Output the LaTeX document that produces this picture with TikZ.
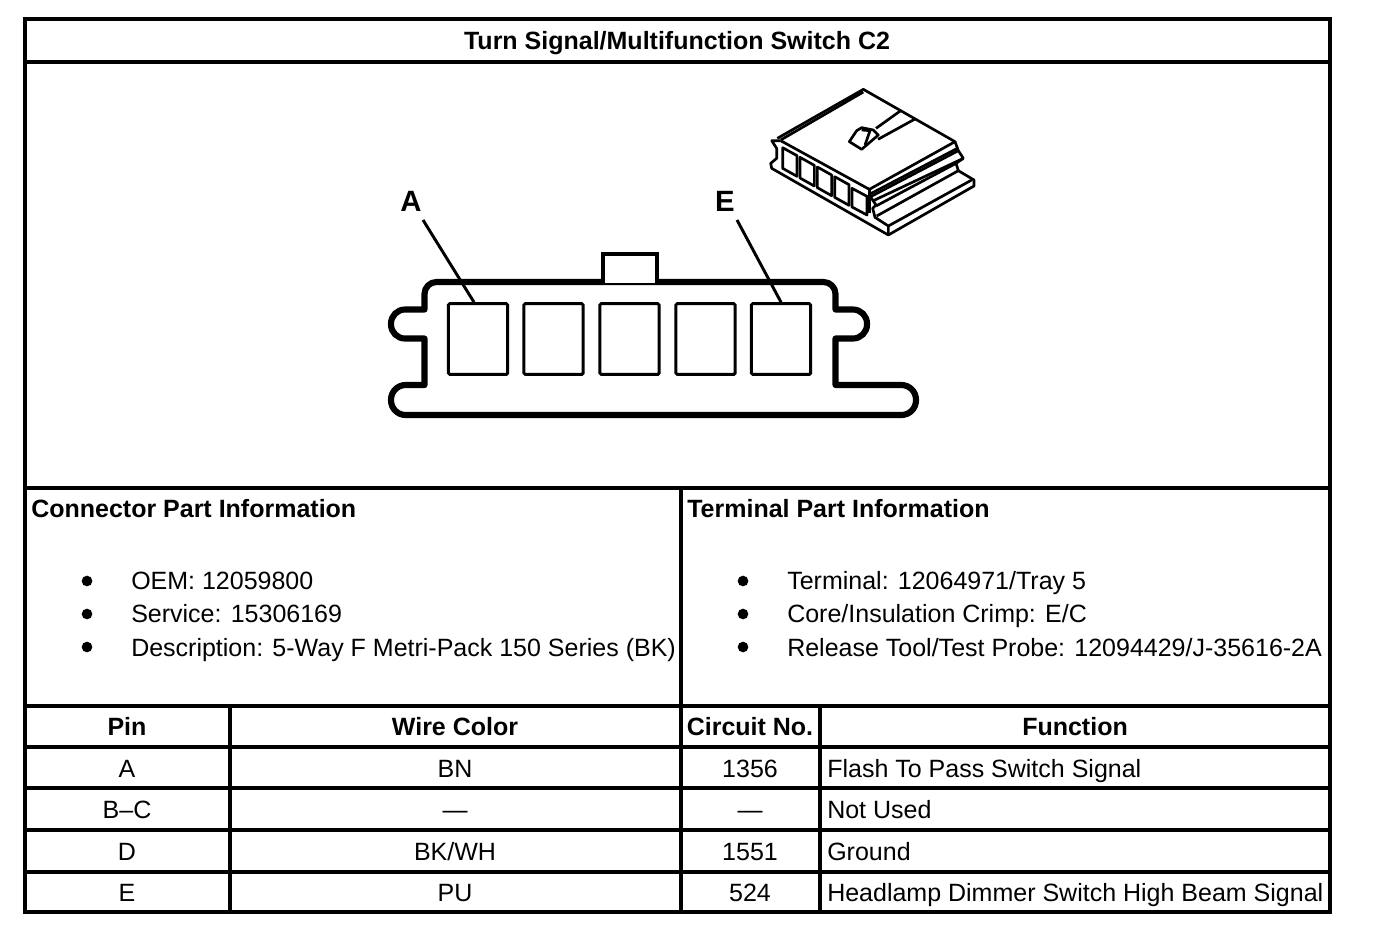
\documentclass[tikz,border=0pt]{standalone}
\usepackage{fontspec}
\setmainfont{Liberation Sans}
\tikzset{
	txt/.style={inner sep=0pt, font=\fontsize{18.75}{20}\selectfont},
	txtb/.style={txt, font=\fontsize{18.75}{20}\selectfont\bfseries},
	letter/.style={inner sep=0pt, font=\fontsize{22}{24}\selectfont\bfseries},
	pinbox/.style={draw, line width=2.2pt, rounded corners=1pt, minimum width=44.5pt, minimum height=53pt, inner sep=0pt},
	bullet/.style={fill, circle, inner sep=0pt, minimum size=8pt},
	rule/.style={line width=3pt},
}
\begin{document}
\begin{tikzpicture}[x=0.75pt, y=-0.75pt]
	  \useasboundingbox (0,0) rectangle (1376,936);

	  % frame and table
	  \draw [rule] (25,19)--(1330,19)--(1330,912)--(25,912)--cycle;
	  \draw [rule] (25,62)--(1330,62);
	  \draw [rule] (25,488)--(1330,488);
	  \draw [rule] (25,706)--(1330,706);
	  \draw [rule] (25,747)--(1330,747);
	  \draw [rule] (25,788)--(1330,788);
	  \draw [rule] (25,830)--(1330,830);
	  \draw [rule] (25,871.5)--(1330,871.5);
	  \draw [rule] (681,488)--(681,912);
	  \draw [rule] (230,706)--(230,912);
	  \draw [rule] (820,706)--(820,912);

	  \node [txtb, anchor=base] (title) at (677,49) {Turn Signal/Multifunction Switch C2};

	  % connector face
	  \draw [line width=4.6pt, line join=round]
		(424.5,309.5) [rounded corners=9pt] --(424.5,282)--(835.5,282) [sharp corners] --(835.5,309.5)
		[rounded corners=10.5pt] --(867,309.5)--(867,338.5) [sharp corners] --(835.5,338.5)--(835.5,385)
		[rounded corners=11pt] --(916,385)--(916,415)--(391,415)--(391,385) [sharp corners] --(424.5,385)--(424.5,338.5)
		[rounded corners=10.5pt] --(391,338.5)--(391,309.5) [sharp corners] --cycle;
	  \draw [line width=2.4pt, fill=white] (603,283)--(603,254)--(657,254)--(657,283);
	  \node [pinbox] (pinA) at (478,339) {};
	  \node [pinbox] (pinB) at (553.5,339) {};
	  \node [pinbox] (pinC) at (629.5,339) {};
	  \node [pinbox] (pinD) at (705.5,339) {};
	  \node [pinbox] (pinE) at (781,339) {};
	  \node [letter] (lblA) at (411,201) {A};
	  \node [letter] (lblE) at (725,201) {E};
	  \coordinate (lblAend) at (423,220);
	  \coordinate (lblEend) at (737,220);
	  \draw [line width=2.2pt] (lblAend)--([xshift=-3pt]pinA.north);
	  \draw [line width=2.2pt] (lblEend)--(pinE.north);

	  % connector sketch
	  \begin{scope}[shift={(750,80)}, x=0.25pt, y=-0.25pt, line width=2pt, line join=round]
		\draw (82,175)--(340,28)--(615,185)--(358,328)--(92,182);
		\draw (92,180)--(340,36);
		\draw (452,92)--(378,145);
		\draw (495,117)--(384,178);
		\draw (320,152)--(298,185)--(335,208)--(385,165)--(370,150)--(335,143)--cycle;
		\draw (335,150)--(360,152)--(345,195);
		% end profile
		\draw (92,182)--(65,182)--(80,205)--(80,235)--(62,250)--(65,265)--(415,465)--(672,318)--(672,300)--(625,272);
		\draw (615,185)--(625,212)--(640,235)--(618,250)--(625,272);
		\draw (358,328)--(358,345)--(378,375)--(368,385)--(375,412)--(415,438)--(415,465);
		\draw (358,328)--(358,398);
		% rails
		\draw (360,342)--(622,205);
		\draw (362,350)--(625,212);
		\draw (370,362)--(640,235);
		\draw (378,378)--(618,250);
		\draw (380,408)--(625,272);
		\draw (415,438)--(665,300);
		% cavities
		\draw (98,203)--(141,227)--(141,289)--(98,265)--cycle;
		\draw (150,232)--(193,256)--(193,318)--(150,294)--cycle;
		\draw (202,261)--(245,285)--(245,347)--(202,323)--cycle;
		\draw (254,290)--(297,314)--(297,376)--(254,352)--cycle;
		\draw (306,325)--(351,349)--(351,405)--(306,381)--cycle;
	  \end{scope}

	  % part information
	  \node [txtb, anchor=base west] (connhead) at (31,517) {Connector Part Information};
	  \node [txtb, anchor=base west] (termhead) at (687,517) {Terminal Part Information};

	  \node [bullet] (bula) at (87,581) {};
	  \node [bullet] (bulb) at (87,614) {};
	  \node [bullet] (bulc) at (87,647) {};
	  \node [txt, anchor=base west] (oem) at (131,589) {OEM: 12059800};
	  \node [txt, anchor=base west] (service) at (131,622) {Service: 15306169};
	  \node [txt, anchor=base west] (descr) at (131,656) {Description: 5-Way F Metri-Pack 150 Series (BK)};

	  \node [bullet] (buld) at (743,581) {};
	  \node [bullet] (bule) at (743,614) {};
	  \node [bullet] (bulf) at (743,647) {};
	  \node [txt, anchor=base west] (term) at (787,589) {Terminal: 12064971/Tray 5};
	  \node [txt, anchor=base west] (crimp) at (787,622) {Core/Insulation Crimp: E/C};
	  \node [txt, anchor=base west] (tool) at (787,656) {Release Tool/Test Probe: 12094429/J-35616-2A};

	  % table text
	  \node [txtb, anchor=base] (hpin) at (127,735.5) {Pin};
	  \node [txtb, anchor=base] (hwire) at (455,735.5) {Wire Color};
	  \node [txtb, anchor=base] (hcirc) at (750,735.5) {Circuit No.};
	  \node [txtb, anchor=base] (hfunc) at (1075,735.5) {Function};

	  \node [txt, anchor=base] (pa) at (127,777) {A};
	  \node [txt, anchor=base] (wa) at (455,777) {BN};
	  \node [txt, anchor=base] (ca) at (750,777) {1356};
	  \node [txt, anchor=base west] (fa) at (827,777) {Flash To Pass Switch Signal};

	  \node [txt, anchor=base] (pb) at (127,818.5) {B–C};
	  \node [txt, anchor=base] (wb) at (455,818.5) {—};
	  \node [txt, anchor=base] (cb) at (750,818.5) {—};
	  \node [txt, anchor=base west] (fb) at (827,818.5) {Not Used};

	  \node [txt, anchor=base] (pd) at (127,860) {D};
	  \node [txt, anchor=base] (wd) at (455,860) {BK/WH};
	  \node [txt, anchor=base] (cd) at (750,860) {1551};
	  \node [txt, anchor=base west] (fd) at (827,860) {Ground};

	  \node [txt, anchor=base] (pe) at (127,901) {E};
	  \node [txt, anchor=base] (we) at (455,901) {PU};
	  \node [txt, anchor=base] (ce) at (750,901) {524};
	  \node [txt, anchor=base west] (fe) at (827,901) {Headlamp Dimmer Switch High Beam Signal};
	\end{tikzpicture}
\end{document}
